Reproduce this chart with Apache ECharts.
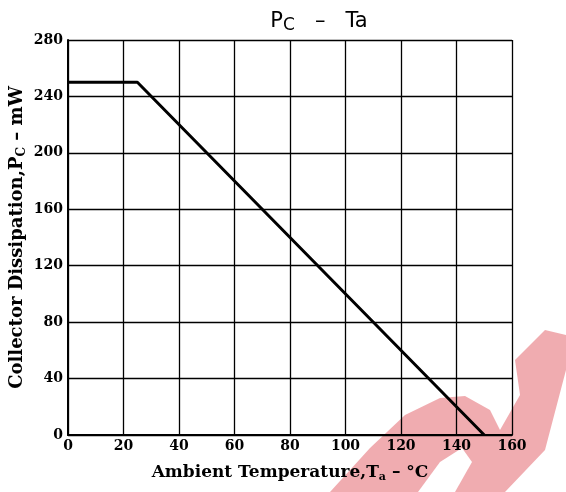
<!DOCTYPE html>
<html><head><meta charset="utf-8">
<script src="https://cdn.jsdelivr.net/npm/echarts@6/dist/echarts.min.js"></script>
<style>html,body{margin:0;padding:0;background:#fff}#c{width:566px;height:492px}</style>
</head><body><div id="c"></div>
<script>
const xTicks = [0, 20, 40, 60, 80, 100, 120, 140, 160];
const yTicks = [0, 40, 80, 120, 160, 200, 240, 280];
const derating = [[0, 250], [25, 250], [150, 0]];

const chart = echarts.init(document.getElementById('c'));
const serif = '"DejaVu Serif", "Liberation Serif", serif';
chart.setOption({
  animation: false,
  backgroundColor: '#fff',
  title: {
    text: '{p|P}{s|C}{p|   –   Ta}',
    left: 314, top: 4, textAlign: 'center',
    textStyle: { fontWeight: 'normal', rich: {
      p: { fontFamily: '"DejaVu Sans", sans-serif', fontSize: 21, fontWeight: 'normal', color: '#000' },
      s: { fontFamily: '"DejaVu Sans", sans-serif', fontSize: 17, fontWeight: 'normal', color: '#000', verticalAlign: 'bottom', padding: [8, 0, 0, 0] }
    } }
  },
  grid: { left: 68, right: 54, top: 40, bottom: 57, outerBoundsMode: 'none', containLabel: false },
  xAxis: {
    type: 'value', min: 0, max: 160, interval: 20,
    name: '{s|Ambient Temperature,T}{sub|a}{s| – °C}', nameLocation: 'middle', nameGap: 28,
    nameTextStyle: { fontFamily: serif, fontSize: 17, color: '#000',
      rich: { s: { fontFamily: serif, fontSize: 17, fontWeight: 'bold', color: '#000' },
              sub: { fontFamily: serif, fontSize: 11, fontWeight: 'bold', color: '#000', verticalAlign: 'bottom', padding: [9, 0, 0, 0] } } },
    axisLine: { lineStyle: { color: '#000', width: 2 } },
    axisTick: { show: false },
    axisLabel: { color: '#000', fontFamily: serif, fontWeight: 'bold', fontSize: 14, margin: 4 },
    splitLine: { lineStyle: { color: '#000', width: 1.3 } }
  },
  yAxis: {
    type: 'value', min: 0, max: 280, interval: 40,
    name: '{s|Collector Dissipation,P}{sub|C}{s| – mW}', nameLocation: 'middle', nameGap: 40,
    nameMoveOverlap: false,
    nameTextStyle: { fontFamily: serif, fontSize: 18, fontWeight: 'bold', color: '#000',
      rich: { s: { fontFamily: serif, fontSize: 18, fontWeight: 'bold', color: '#000' },
              sub: { fontFamily: serif, fontSize: 12, fontWeight: 'bold', color: '#000', verticalAlign: 'bottom', padding: [9, 0, 0, 0] } } },
    axisLine: { show: true, lineStyle: { color: '#000', width: 2 } },
    axisTick: { show: false },
    axisLabel: { color: '#000', fontFamily: serif, fontWeight: 'bold', fontSize: 14, margin: 5 },
    splitLine: { lineStyle: { color: '#000', width: 1.3 } }
  },
  series: [{
    type: 'line', data: derating, symbol: 'none',
    lineStyle: { color: '#000', width: 3 }, z: 3
  }],
  graphic: [{
    type: 'group', z: 100, silent: true,
    children: [
      { type: 'polygon', shape: { points: [[330, 492], [370, 448], [405, 415], [440, 398], [465, 396], [490, 410], [500, 430], [520, 395], [515, 360], [545, 330], [566, 335], [566, 370], [545, 450], [505, 492]] },
        style: { fill: 'rgba(222,70,80,0.45)' } },
      { type: 'polygon', shape: { points: [[418, 492], [440, 462], [462, 448], [472, 462], [455, 492]] },
        style: { fill: '#fff' } }
    ]
  }]
});
</script></body></html>
